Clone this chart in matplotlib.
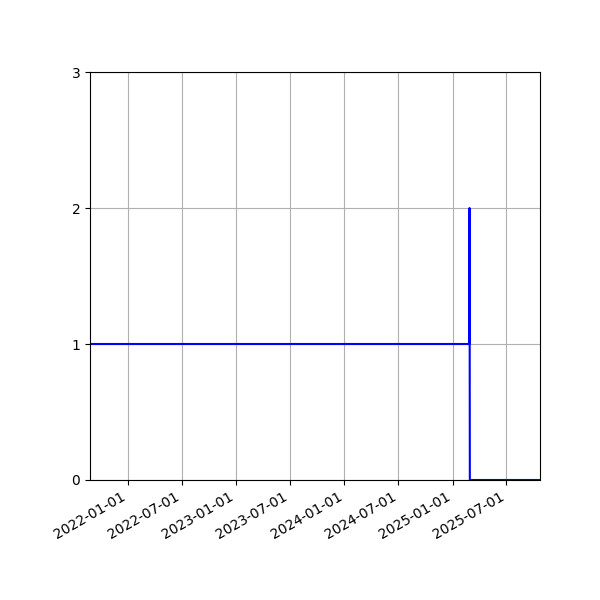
import numpy as np
import matplotlib
matplotlib.use('Agg')
import matplotlib.pyplot as plt
import matplotlib.dates as mdates

# step series
dates = np.array(['2021-08-25', '2025-02-26', '2025-02-27', '2025-02-28', '2025-10-23'],
                 dtype='datetime64[D]')
values = [1, 1, 2, 0, 0]

fig, ax = plt.subplots(figsize=(6, 6), dpi=100)
ax.plot(dates, values, color='b')
ax.set_xlim(dates[0], dates[-1])
ax.set_ylim(0, 3)
ax.set_yticks([0, 1, 2, 3])
ax.xaxis.set_major_locator(mdates.MonthLocator(bymonth=[1, 7]))
ax.xaxis.set_major_formatter(mdates.DateFormatter('%Y-%m-%d'))
ax.grid(True)
fig.autofmt_xdate()
fig.subplots_adjust(left=0.15, right=0.9, top=0.88, bottom=0.2)

fig.savefig('out.png', dpi=100)
